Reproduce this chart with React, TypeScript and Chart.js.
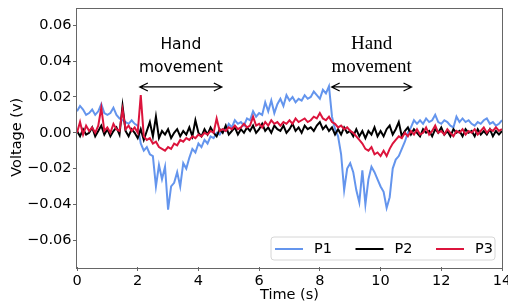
import React, { useEffect, useRef } from 'react';
import { Chart, registerables } from 'chart.js';

Chart.register(...registerables);

// Sampling interval of the recorded signals (seconds)
const SAMPLE_STEP_S = 0.1;

const SERIES_LABELS = ['P1', 'P2', 'P3'];

// P1 voltage, t = 0.0 .. 14.0 s
const P1 = [
  0.012, 0.015, 0.013, 0.010, 0.011, 0.013, 0.010, 0.012, 0.016, 0.011,
  0.010, 0.011, 0.014, 0.010, 0.008, 0.007, 0.006, 0.005, 0.007, 0.005,
  0.004, -0.006, -0.010, -0.008, -0.012, -0.013, -0.030, -0.018, -0.026, -0.019,
  -0.043, -0.030, -0.028, -0.022, -0.030, -0.017, -0.020, -0.014, -0.009, -0.011,
  -0.006, -0.008, -0.004, -0.006, -0.002, -0.003, 0.000, -0.001, 0.002, 0.001,
  0.005, 0.003, 0.007, 0.005, 0.006, 0.004, 0.008, 0.007, 0.012, 0.009,
  0.011, 0.010, 0.017, 0.012, 0.018, 0.011, 0.016, 0.019, 0.015, 0.021,
  0.018, 0.020, 0.017, 0.019, 0.018, 0.021, 0.019, 0.020, 0.023, 0.021,
  0.019, 0.024, 0.022, 0.026, 0.009, 0.002, -0.002, -0.012, -0.032, -0.020,
  -0.017, -0.022, -0.032, -0.039, -0.021, -0.040, -0.026, -0.019, -0.022, -0.026,
  -0.030, -0.033, -0.042, -0.036, -0.020, -0.015, -0.013, -0.009, -0.005, 0.000,
  0.003, 0.007, 0.005, 0.007, 0.005, 0.008, 0.006, 0.007, 0.010, 0.006,
  0.005, 0.007, 0.006, 0.004, 0.003, 0.009, 0.006, 0.008, 0.006, 0.007,
  0.005, 0.004, 0.006, 0.005, 0.007, 0.008, 0.005, 0.006, 0.004, 0.005,
  0.007,
];

// P2 voltage
const P2 = [
  0.001, -0.002, 0.002, -0.001, 0.000, 0.003, -0.002, 0.001, 0.004, -0.001,
  0.002, -0.002, 0.001, 0.003, -0.001, 0.015, 0.001, -0.002, 0.002, 0.000,
  -0.003, 0.002, -0.004, 0.001, 0.006, -0.002, 0.009, -0.003, 0.001, -0.001,
  0.002, -0.003, 0.000, 0.002, -0.002, 0.001, -0.001, 0.003, -0.002, 0.007,
  0.000, -0.002, 0.002, -0.001, 0.003, 0.000, -0.002, 0.002, 0.000, 0.004,
  -0.001, 0.001, 0.003, -0.001, 0.002, 0.000, 0.003, 0.001, 0.004, 0.000,
  0.002, 0.005, 0.001, 0.003, 0.000, 0.004, 0.002, 0.001, 0.004, 0.000,
  0.002, 0.005, 0.001, 0.003, 0.000, 0.004, 0.002, 0.003, 0.001, 0.004,
  0.006, 0.002, 0.004, 0.001, 0.003, -0.001, 0.002, -0.001, 0.003, 0.000,
  0.001, -0.002, 0.002, -0.002, 0.001, -0.003, 0.001, -0.001, 0.003, -0.002,
  0.001, -0.002, 0.002, 0.004, -0.001, 0.002, 0.006, -0.002, 0.001, 0.003,
  -0.001, 0.002, 0.000, -0.002, 0.002, 0.000, 0.001, -0.002, 0.002, 0.000,
  0.003, -0.001, 0.001, -0.002, 0.002, 0.000, 0.001, -0.002, 0.002, 0.000,
  0.001, -0.002, 0.002, -0.001, 0.001, -0.001, 0.002, -0.002, 0.001, -0.001,
  0.001,
];

// P3 voltage
const P3 = [
  0.000, 0.006, -0.001, 0.004, 0.001, 0.003, 0.000, 0.004, 0.014, 0.001,
  0.003, 0.000, 0.005, 0.002, 0.001, 0.013, 0.002, 0.004, 0.001, 0.003,
  0.000, 0.021, -0.002, -0.004, -0.003, -0.006, -0.005, -0.008, -0.009, -0.010,
  -0.008, -0.009, -0.006, -0.007, -0.004, -0.005, -0.003, -0.004, -0.002, -0.003,
  -0.001, -0.002, 0.000, -0.001, 0.001, 0.000, 0.008, 0.001, 0.002, 0.001,
  0.003, 0.002, 0.004, 0.002, 0.003, 0.005, 0.003, 0.004, 0.009, 0.004,
  0.005, 0.003, 0.006, 0.004, 0.007, 0.005, 0.006, 0.004, 0.006, 0.005,
  0.007, 0.005, 0.008, 0.006, 0.007, 0.008, 0.006, 0.007, 0.009, 0.008,
  0.011, 0.008, 0.007, 0.009, 0.006, 0.005, 0.003, 0.004, 0.002, 0.003,
  0.001, 0.000, -0.002, -0.004, -0.006, -0.009, -0.010, -0.008, -0.012, -0.011,
  -0.013, -0.010, -0.013, -0.009, -0.006, -0.004, -0.002, -0.003, 0.000, -0.002,
  0.001, -0.001, 0.002, -0.001, 0.000, 0.003, -0.001, 0.001, 0.004, 0.000,
  0.001, -0.001, 0.002, 0.000, -0.002, 0.001, 0.000, 0.002, -0.001, 0.001,
  0.000, 0.002, -0.001, 0.001, 0.003, 0.000, 0.002, 0.001, 0.003, 0.001,
  0.002,
];

const X_TICKS = [0, 2, 4, 6, 8, 10, 12, 14];
const Y_TICKS = [-0.06, -0.04, -0.02, 0, 0.02, 0.04, 0.06];

// Annotated hand-movement intervals (seconds) and the arrow level (volts)
const MOVE_LINES = ['Hand', 'movement'];
const MOVE_FROM = [2.07, 8.39];
const MOVE_TO = [4.77, 11.02];
const MOVE_LEVEL = [0.0256, 0.0256];

const COLORS = ['#6495ED', '#000000', '#DC143C'];
const ANNOT_FONTS = ["15.5px 'DejaVu Sans'", "19px 'Liberation Serif'"];
const SPINE = '#666666';
const FONT_SIZE = 14.5;

const fmt = (v: number) => {
  const s = Math.abs(v).toFixed(2);
  return v < -1e-9 ? '\u2212' + s : s;
};

const toPoints = (arr: number[]) => arr.map((y, i) => ({ x: +(i * SAMPLE_STEP_S).toFixed(2), y }));

const framePlugin = {
  id: 'frame',
  afterDraw(chart: any) {
    const { ctx, chartArea: a } = chart;
    ctx.save();
    ctx.strokeStyle = SPINE;
    ctx.lineWidth = 1;
    ctx.strokeRect(Math.round(a.left) - 0.5, Math.round(a.top) + 0.5, Math.round(a.right - a.left) + 1, Math.round(a.bottom - a.top));
    ctx.restore();
  },
};

const annotPlugin = {
  id: 'handAnnot',
  afterDatasetsDraw(chart: any) {
    const { ctx } = chart;
    const xs = chart.scales.x;
    const ys = chart.scales.y;
    ctx.save();
    for (let k = 0; k < MOVE_FROM.length; k++) {
      const x0 = xs.getPixelForValue(MOVE_FROM[k]);
      const x1 = xs.getPixelForValue(MOVE_TO[k]);
      const y = ys.getPixelForValue(MOVE_LEVEL[k]);
      ctx.strokeStyle = '#000';
      ctx.lineWidth = 1.3;
      ctx.beginPath();
      ctx.moveTo(x0, y);
      ctx.lineTo(x1, y);
      ctx.moveTo(x0 + 8, y - 4);
      ctx.lineTo(x0, y);
      ctx.lineTo(x0 + 8, y + 4);
      ctx.moveTo(x1 - 8, y - 4);
      ctx.lineTo(x1, y);
      ctx.lineTo(x1 - 8, y + 4);
      ctx.stroke();
      ctx.fillStyle = '#000';
      ctx.font = ANNOT_FONTS[k];
      ctx.textAlign = 'center';
      ctx.textBaseline = 'alphabetic';
      const cx = (x0 + x1) / 2;
      ctx.fillText(MOVE_LINES[0], cx, y - 38);
      ctx.fillText(MOVE_LINES[1], cx, y - 15);
    }
    ctx.restore();
  },
};

const legendPlugin = {
  id: 'insideLegend',
  afterDatasetsDraw(chart: any) {
    const { ctx, chartArea: a } = chart;
    const w = 224;
    const h = 23;
    const x = a.right - 7 - w;
    const y = a.bottom - 7 - h;
    ctx.save();
    ctx.beginPath();
    const r = 3;
    ctx.moveTo(x + r, y);
    ctx.lineTo(x + w - r, y);
    ctx.quadraticCurveTo(x + w, y, x + w, y + r);
    ctx.lineTo(x + w, y + h - r);
    ctx.quadraticCurveTo(x + w, y + h, x + w - r, y + h);
    ctx.lineTo(x + r, y + h);
    ctx.quadraticCurveTo(x, y + h, x, y + h - r);
    ctx.lineTo(x, y + r);
    ctx.quadraticCurveTo(x, y, x + r, y);
    ctx.closePath();
    ctx.fillStyle = 'rgba(255,255,255,0.8)';
    ctx.fill();
    ctx.strokeStyle = '#d6d6d6';
    ctx.lineWidth = 1;
    ctx.stroke();
    const cy = y + h / 2 + 0.5;
    chart.data.datasets.forEach((ds: any, i: number) => {
      const ex = x + 4 + i * 80.5;
      ctx.strokeStyle = ds.borderColor;
      ctx.lineWidth = 2;
      ctx.beginPath();
      ctx.moveTo(ex, cy);
      ctx.lineTo(ex + 28, cy);
      ctx.stroke();
      ctx.fillStyle = '#000';
      ctx.font = FONT_SIZE + "px 'DejaVu Sans'";
      ctx.textAlign = 'left';
      ctx.textBaseline = 'middle';
      ctx.fillText(ds.label, ex + 39, cy);
    });
    ctx.restore();
  },
};

export default function App() {
  const ref = useRef<HTMLCanvasElement | null>(null);

  useEffect(() => {
    if (!ref.current) return;
    Chart.defaults.font.family = "'DejaVu Sans'";
    const seriesData = [P1, P2, P3];
    const chart = new Chart(ref.current, {
      type: 'line',
      data: {
        datasets: seriesData.map((arr, i) => ({
          label: SERIES_LABELS[i],
          data: toPoints(arr),
          borderColor: COLORS[i],
          backgroundColor: COLORS[i],
          borderWidth: 2,
          pointRadius: 0,
          tension: 0,
          fill: false,
          order: 3 - i,
        })),
      },
      options: {
        responsive: false,
        animation: false,
        events: [],
        layout: { padding: { top: 7.5, right: 6, left: 0, bottom: 0 } },
        plugins: {
          legend: { display: false },
          tooltip: { enabled: false },
        },
        scales: {
          x: {
            type: 'linear',
            min: 0,
            max: 14,
            afterBuildTicks: (s: any) => {
              s.ticks = X_TICKS.map((v) => ({ value: v }));
            },
            afterFit: (s: any) => {
              s.height = 41;
              s.paddingLeft = 0;
              s.paddingRight = 0;
            },
            ticks: {
              font: { size: FONT_SIZE },
              color: '#000',
              padding: 1.5,
              maxRotation: 0,
              autoSkip: false,
              callback: (v: any) => String(v),
            },
            grid: { display: true, drawOnChartArea: false, drawTicks: true, tickLength: 4, color: SPINE },
            border: { display: false },
            title: { display: true, text: 'Time (s)', font: { size: FONT_SIZE }, color: '#000', padding: { top: 0, bottom: 4 } },
          },
          y: {
            type: 'linear',
            min: -0.075,
            max: 0.07,
            afterBuildTicks: (s: any) => {
              s.ticks = Y_TICKS.map((v) => ({ value: v }));
            },
            afterFit: (s: any) => {
              s.width = 77;
              s.paddingTop = 0;
              s.paddingBottom = 0;
            },
            ticks: {
              font: { size: FONT_SIZE },
              color: '#000',
              padding: 1.5,
              autoSkip: false,
              callback: (v: any) => fmt(Number(v)),
            },
            grid: { display: true, drawOnChartArea: false, drawTicks: true, tickLength: 4, color: SPINE },
            border: { display: false },
            title: { display: true, text: 'Voltage (v)', font: { size: FONT_SIZE }, color: '#000', padding: { top: 8.5, bottom: 0 } },
          },
        },
      },
      plugins: [framePlugin, annotPlugin, legendPlugin],
    } as any);
    return () => chart.destroy();
  }, []);

  return (
    <div style={{ position: 'absolute', left: 0, top: 0, width: 508, height: 308, background: '#fff' }}>
      <canvas ref={ref} width={508} height={308} style={{ width: 508, height: 308, display: 'block' }} />
    </div>
  );
}
